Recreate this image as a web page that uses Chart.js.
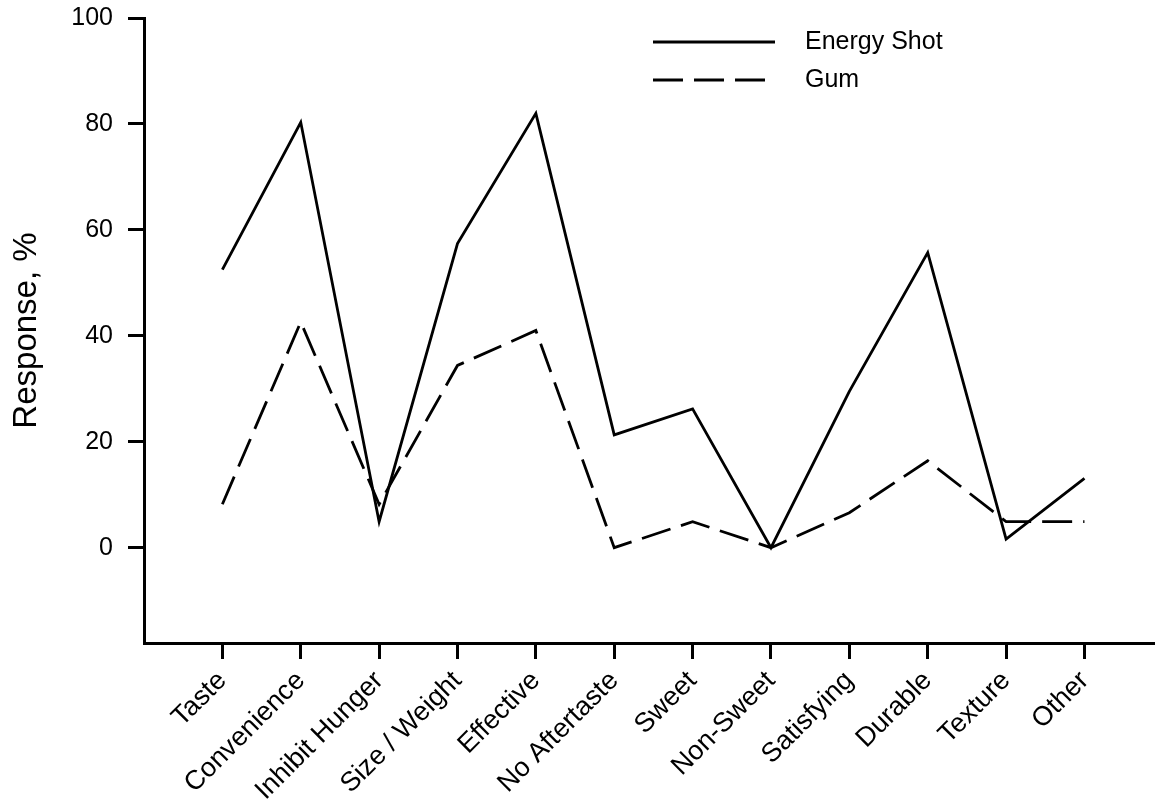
<!DOCTYPE html>
<html>
<head>
<meta charset="utf-8">
<script src="https://cdn.jsdelivr.net/npm/chart.js@4/dist/chart.umd.min.js"></script>
<style>
  body { margin: 0; background: #fff; }
  #wrap { width: 1155px; height: 801px; }
</style>
</head>
<body>
<div id="wrap"><canvas id="chart_response"></canvas></div>
<script>
var categories = ['Taste', 'Convenience', 'Inhibit Hunger', 'Size / Weight', 'Effective', 'No Aftertaste',
                  'Sweet', 'Non-Sweet', 'Satisfying', 'Durable', 'Texture', 'Other']
var energyShot = [52.5, 80.3, 4.9, 57.4, 82.0, 21.3, 26.2, 0, 29.5, 55.7, 1.6, 13.1]
var gum = [8.2, 42.6, 8.2, 34.4, 41.0, 0, 4.9, 0, 6.6, 16.4, 4.9, 4.9]
var yTicks = [0, 20, 40, 60, 80, 100]

var fontFamily = '"Liberation Sans", Arial, sans-serif'

function toPoints(values) {
    return values.map((v, i) => ({ x: i, y: v }))
}

// legend drawn as line samples in the upper part of the plot
var lineLegend = {
    id: 'lineLegend',
    afterDraw: function(chart) {
        const ctx = chart.ctx
        const x0 = 653, x1 = 775, top = 42, step = 38
        ctx.save()
        chart.data.datasets.forEach((ds, i) => {
            const y = top + i * step
            ctx.beginPath()
            ctx.lineWidth = ds.borderWidth
            ctx.strokeStyle = ds.borderColor
            ctx.setLineDash(ds.borderDash || [])
            ctx.moveTo(x0, y)
            ctx.lineTo(x1, y)
            ctx.stroke()
            ctx.setLineDash([])
            ctx.fillStyle = '#000'
            ctx.font = '25px ' + fontFamily
            ctx.textBaseline = 'middle'
            ctx.fillText(ds.label, 805, y)
        })
        ctx.restore()
    }
}

var ctx = document.getElementById('chart_response')
var chartLine = new Chart(ctx, {
    type: 'line',
    data: {
        datasets: [
            {
                label: 'Energy Shot',
                data: toPoints(energyShot),
                borderColor: '#000',
                borderWidth: 2.8,
                pointRadius: 0,
                tension: 0,
                fill: false
            },
            {
                label: 'Gum',
                data: toPoints(gum),
                borderColor: '#000',
                borderWidth: 2.8,
                borderDash: [30, 11],
                pointRadius: 0,
                tension: 0,
                fill: false
            }
        ]
    },
    options: {
        responsive: true,
        maintainAspectRatio: false,
        animation: false,
        layout: { padding: { top: 18, right: 0, left: 0, bottom: 0 } },
        plugins: {
            legend: { display: false },
            tooltip: { enabled: false }
        },
        scales: {
            x: {
                type: 'linear',
                min: -1,
                max: 11.9,
                afterBuildTicks: function(axis) {
                    axis.ticks = categories.map((c, i) => ({ value: i }))
                },
                afterFit: function(axis) { axis.height = 158 },
                grid: { drawOnChartArea: false, drawTicks: true, tickLength: 16, color: '#000', lineWidth: 3 },
                border: { display: true, color: '#000', width: 3 },
                ticks: {
                    color: '#000',
                    font: { family: fontFamily, size: 27 },
                    minRotation: 45,
                    maxRotation: 45,
                    padding: 6,
                    autoSkip: false,
                    callback: function(value) { return categories[value] }
                }
            },
            y: {
                min: -18,
                max: 100,
                afterBuildTicks: function(axis) {
                    axis.ticks = yTicks.map(v => ({ value: v }))
                },
                afterFit: function(axis) {
                    axis.width = 144
                    axis.paddingTop = 0
                    axis.paddingBottom = 0
                },
                grid: { drawOnChartArea: false, drawTicks: true, tickLength: 16, color: '#000', lineWidth: 3 },
                border: { display: true, color: '#000', width: 3 },
                ticks: {
                    color: '#000',
                    font: { family: fontFamily, size: 25 },
                    padding: 15
                },
                title: {
                    display: true,
                    text: 'Response, %',
                    color: '#000',
                    font: { family: fontFamily, size: 33 },
                    padding: { top: 7, bottom: 0 }
                }
            }
        }
    },
    plugins: [lineLegend]
})
</script>
</body>
</html>
